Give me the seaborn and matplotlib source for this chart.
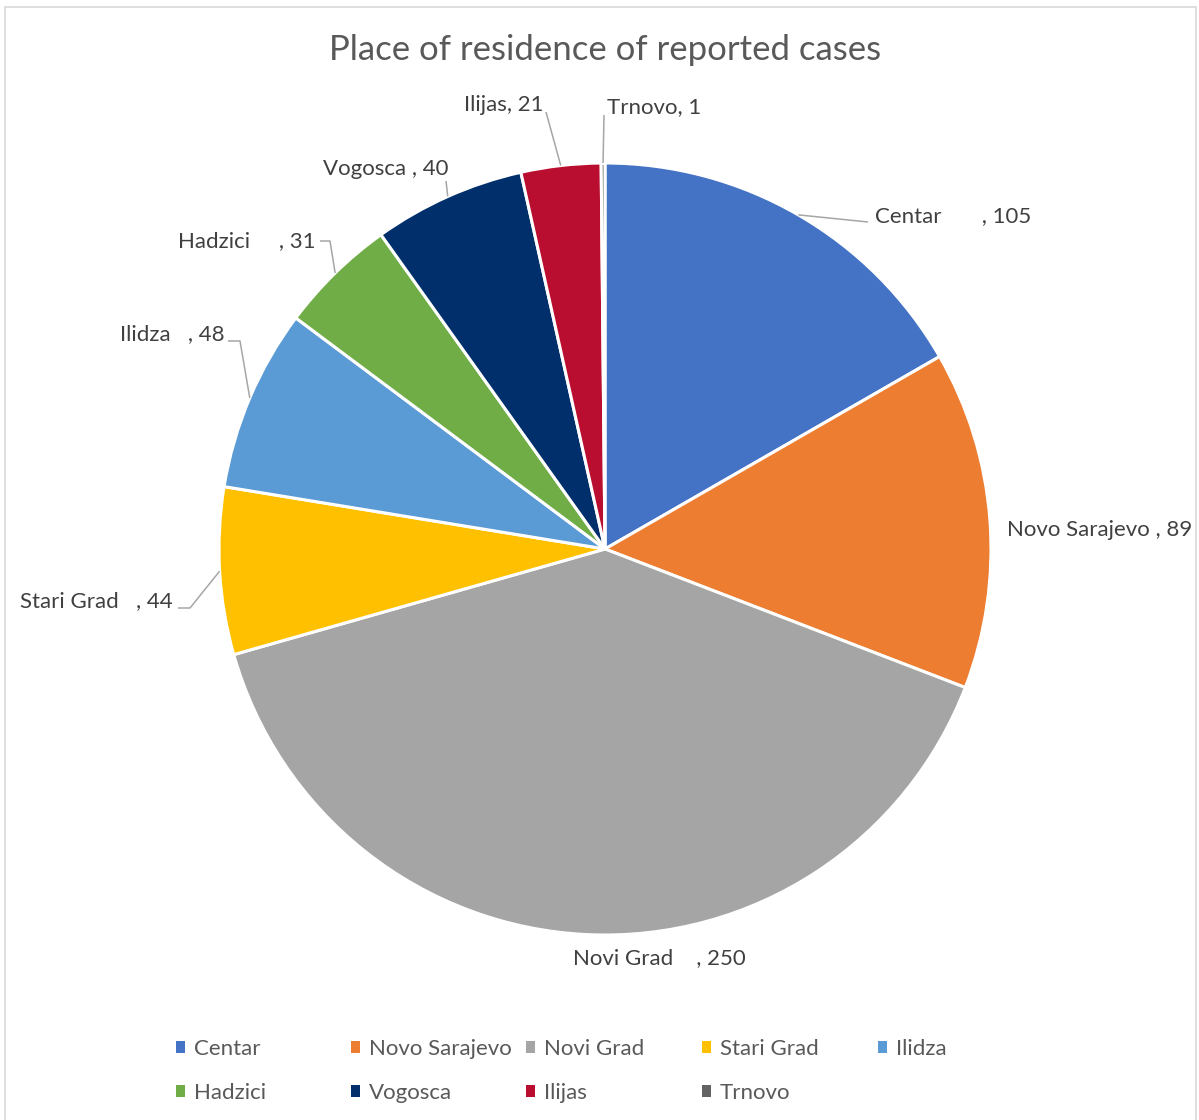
import matplotlib
matplotlib.use("Agg")
import numpy as np
import matplotlib.pyplot as plt
from matplotlib.patches import Patch, Rectangle
import seaborn as sns

# Reported cases by municipality (names keep their original padding)
categories = ["Centar       ", "Novo Sarajevo ", "Novi Grad    ", "Stari Grad   ",
              "Ilidza   ", "Hadzici     ", "Vogosca ", "Ilijas", "Trnovo"]
cases = [105, 89, 250, 44, 48, 31, 40, 21, 1]
colors = ["#4472C4", "#ED7D31", "#A5A5A5", "#FFC000", "#5B9BD5",
          "#70AD47", "#002F6C", "#B90E2F", "#636363"]
title = "Place of residence of reported cases"

sns.set_theme(style="white")
plt.rcParams["font.family"] = ["Lato", "DejaVu Sans"]

W, H = 1199, 1120
fig = plt.figure(figsize=(W / 100, H / 100), dpi=100)
fig.patch.set_facecolor("white")

# pie centre and radius in pixels
cx, cy, R = 605, 549, 386
half = 480
ax = fig.add_axes([(cx - half) / W, (H - cy - half) / H, 2 * half / W, 2 * half / H])

wedges, _ = ax.pie(cases, colors=colors, startangle=90, counterclock=False, radius=1,
                   wedgeprops=dict(edgecolor="white", linewidth=2.2))
ax.set_xlim(-half / R, half / R)
ax.set_ylim(-half / R, half / R)
ax.set_aspect("equal", adjustable="box")
ax.axis("off")


def px(x, y):
    """pixel position -> pie data coordinates"""
    return (x - cx) / R, (cy - y) / R


# label placement: text anchor (px), alignment, leader elbow points (px)
label_layout = [
    ((875, 216), "left", [(868, 222)]),
    ((1007, 530), "left", []),
    ((659, 958), "center", []),
    ((173, 601), "right", [(190, 608), (178, 608)]),
    ((225, 334), "right", [(240, 341), (228, 341)]),
    ((315, 241), "right", [(330, 241), (320, 241)]),
    ((386, 169), "center", [(446, 181)]),
    ((543, 105), "right", [(546, 112)]),
    ((607, 107), "left", [(604, 115)]),
]

for w, name, val, (tpos, ha, elbows) in zip(wedges, categories, cases, label_layout):
    mid = np.deg2rad((w.theta1 + w.theta2) / 2)
    if elbows:
        pts = [(np.cos(mid), np.sin(mid))] + [px(*p) for p in elbows]
        xs, ys = zip(*pts)
        ax.plot(xs, ys, color="#A6A6A6", lw=1.1, clip_on=False, solid_capstyle="butt")
    tx, ty = px(*tpos)
    ax.text(tx, ty, f"{name}, {val}", ha=ha, va="center", fontsize=16,
            color="#404040", clip_on=False)

fig.text(cx / W, 1 - 50 / H, title, ha="center", va="center", fontsize=25, color="#595959")

# legend: two rows on a fixed column grid
col_x = [176, 351, 526, 702, 878]
row_y = [1049, 1093]
for i, (name, c) in enumerate(zip(categories, colors)):
    x = col_x[i % 5]
    y = row_y[i // 5]
    fig.legend(handles=[Patch(facecolor=c, edgecolor="none")], labels=[name.strip()],
               loc="center left", bbox_to_anchor=(x / W, 1 - y / H), frameon=False,
               fontsize=16, handlelength=0.4, handleheight=0.4, handletextpad=0.4,
               borderpad=0, borderaxespad=0, labelcolor="#595959")

# chart border
fig.add_artist(Rectangle((5 / W, -0.02), (1196 - 5) / W, (H - 7) / H + 0.02,
                         transform=fig.transFigure, fill=False,
                         edgecolor="#D9D9D9", lw=1.2))

fig.savefig("out.png", dpi=100, facecolor="white")
